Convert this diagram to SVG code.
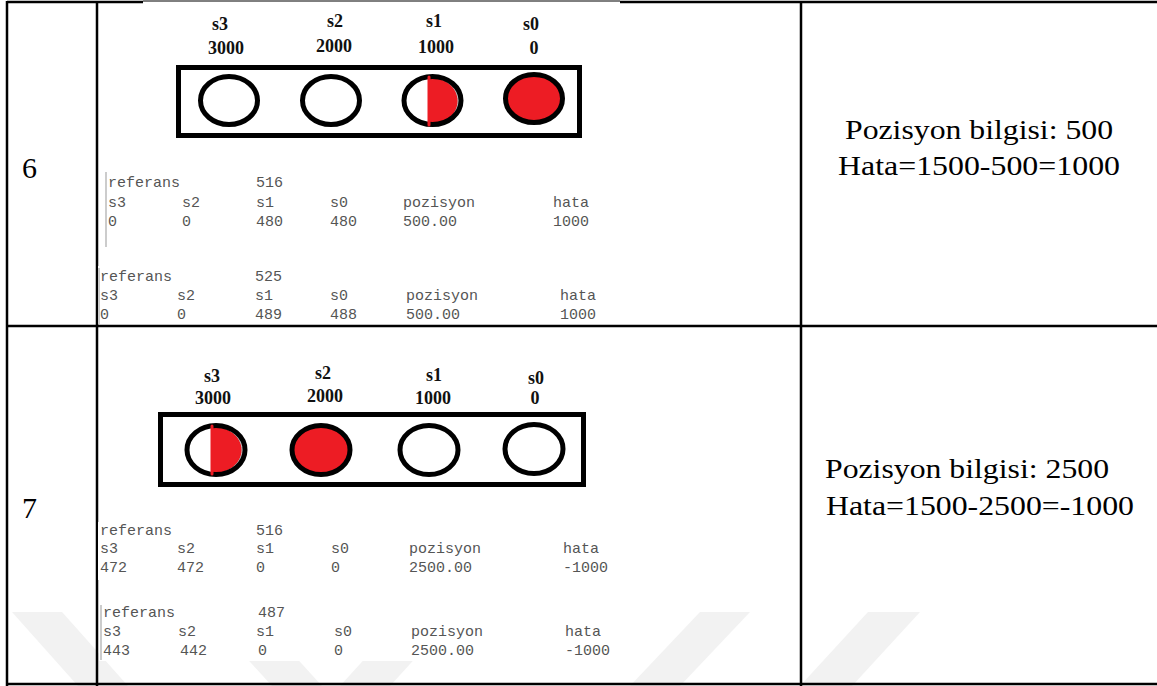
<svg xmlns="http://www.w3.org/2000/svg" width="1157" height="686" viewBox="0 0 1157 686">
<style>
.wm{fill:#f2f2f2}
.shot{fill:#fff}
.tl{stroke:#000;stroke-width:2.5;fill:none}
.num{font-family:"Liberation Serif","Times New Roman",serif;font-size:30px;fill:#000}
.lbl{font-family:"Liberation Serif","Times New Roman",serif;font-size:18px;font-weight:bold;fill:#111;text-anchor:middle}
.box{fill:none;stroke:#000;stroke-width:5}
.ring{fill:none;stroke:#000;stroke-width:5}
.redfill{fill:#ed1c24;stroke:#000;stroke-width:5}
.half{fill:#ed1c24;stroke:#bbb;stroke-width:1}
.cut{stroke:#ed1c24;stroke-width:3;stroke-linecap:round}
.con{font-family:"Liberation Mono","Courier New",monospace;font-size:15px;fill:#555}
.bar{stroke:#999;stroke-width:1}
.desc{font-family:"Liberation Serif","Times New Roman",serif;font-size:28px;fill:#000}
</style>
<rect width="1157" height="686" fill="#fff"/>
<g id="watermark">
<polygon class="wm" points="12,612 62,612 128,686 78,686"/>
<polygon class="wm" points="212,620 262,620 322,686 272,686"/>
<polygon class="wm" points="340,686 400,620 450,620 390,686"/>
<polygon class="wm" points="630,686 700,612 750,612 680,686"/>
<polygon class="wm" points="800,686 868,612 920,612 852,686"/>
</g>
<g id="table">
<line class="tl" x1="7" y1="2" x2="143" y2="2"/>
<line x1="143" y1="1" x2="620" y2="1" stroke="#000" stroke-width="1"/>
<line class="tl" x1="620" y1="2" x2="1157" y2="2"/>
<line class="tl" x1="7" y1="1" x2="7" y2="686"/>
<line class="tl" x1="97" y1="1" x2="97" y2="686"/>
<line class="tl" x1="801" y1="1" x2="801" y2="686"/>
<line class="tl" x1="7" y1="326" x2="1157" y2="326"/>
<line class="tl" x1="7" y1="684" x2="1157" y2="684"/>
</g>
<g id="row6-number"><text class="num" x="22" y="178">6</text></g>
<g id="row7-number"><text class="num" x="22" y="518">7</text></g>
<g id="row6-sensors">
<text class="lbl" x="220" y="30">s3</text>
<text class="lbl" x="335" y="27">s2</text>
<text class="lbl" x="434" y="27">s1</text>
<text class="lbl" x="531" y="30">s0</text>
<text class="lbl" x="226" y="54">3000</text>
<text class="lbl" x="334" y="52">2000</text>
<text class="lbl" x="436" y="53">1000</text>
<text class="lbl" x="534" y="54">0</text>
<rect class="box" x="178.5" y="67.5" width="401" height="68"/>
<ellipse class="ring" cx="229" cy="100.5" rx="28.5" ry="24"/>
<ellipse class="ring" cx="331" cy="100.5" rx="28.5" ry="24"/>
<path class="half" d="M429,77 L429,125 C446,125 458,114 458,101 C458,88 446,77 429,77 Z"/>
<ellipse class="ring" cx="432.5" cy="100.5" rx="28.5" ry="24"/>
<line class="cut" x1="429" y1="77" x2="429" y2="125"/>
<ellipse class="redfill" cx="534" cy="98.5" rx="28.5" ry="24"/>
</g>
<g id="row6-console1">
<rect class="shot" x="104" y="170" width="500" height="80"/>
<line class="bar" x1="106" y1="172" x2="106" y2="247"/>
<text class="con" x="108" y="187">referans</text><text class="con" x="256" y="187">516</text>
<text class="con" x="108" y="207">s3</text><text class="con" x="182" y="207">s2</text><text class="con" x="256" y="207">s1</text><text class="con" x="330" y="207">s0</text><text class="con" x="403" y="207">pozisyon</text><text class="con" x="553" y="207">hata</text>
<text class="con" x="108" y="226">0</text><text class="con" x="182" y="226">0</text><text class="con" x="256" y="226">480</text><text class="con" x="330" y="226">480</text><text class="con" x="403" y="226">500.00</text><text class="con" x="553" y="226">1000</text>
</g>
<g id="row6-console2">
<rect class="shot" x="98" y="266" width="512" height="58"/>
<line class="bar" x1="99" y1="268" x2="99" y2="324"/>
<text class="con" x="100" y="281">referans</text><text class="con" x="255" y="281">525</text>
<text class="con" x="100" y="300">s3</text><text class="con" x="177" y="300">s2</text><text class="con" x="255" y="300">s1</text><text class="con" x="330" y="300">s0</text><text class="con" x="406" y="300">pozisyon</text><text class="con" x="560" y="300">hata</text>
<text class="con" x="100" y="319">0</text><text class="con" x="177" y="319">0</text><text class="con" x="255" y="319">489</text><text class="con" x="330" y="319">488</text><text class="con" x="406" y="319">500.00</text><text class="con" x="560" y="319">1000</text>
</g>
<g id="row6-result">
<text class="desc" x="979" y="139" text-anchor="middle" textLength="268" lengthAdjust="spacingAndGlyphs">Pozisyon bilgisi: 500</text>
<text class="desc" x="979" y="175" text-anchor="middle" textLength="282" lengthAdjust="spacingAndGlyphs">Hata=1500-500=1000</text>
</g>
<g id="row7-sensors">
<text class="lbl" x="212" y="382">s3</text>
<text class="lbl" x="323" y="379">s2</text>
<text class="lbl" x="434" y="381">s1</text>
<text class="lbl" x="536" y="384">s0</text>
<text class="lbl" x="213" y="404">3000</text>
<text class="lbl" x="325" y="402">2000</text>
<text class="lbl" x="433" y="404">1000</text>
<text class="lbl" x="535" y="404">0</text>
<rect class="box" x="160.5" y="414.5" width="423" height="70"/>
<path class="half" d="M212,426 L212,474 C229,474 242,463 242,450 C242,437 229,426 212,426 Z"/>
<ellipse class="ring" cx="216" cy="450" rx="29" ry="24.5"/>
<line class="cut" x1="212" y1="426" x2="212" y2="474"/>
<ellipse class="redfill" cx="321" cy="450" rx="29" ry="24.5"/>
<ellipse class="ring" cx="429" cy="450" rx="29" ry="24.5"/>
<ellipse class="ring" cx="534" cy="449" rx="29" ry="24.5"/>
</g>
<g id="row7-console1">
<rect class="shot" x="98" y="522" width="520" height="58"/>
<text class="con" x="100" y="535">referans</text><text class="con" x="256" y="535">516</text>
<text class="con" x="100" y="553">s3</text><text class="con" x="177" y="553">s2</text><text class="con" x="256" y="553">s1</text><text class="con" x="331" y="553">s0</text><text class="con" x="409" y="553">pozisyon</text><text class="con" x="563" y="553">hata</text>
<text class="con" x="100" y="572">472</text><text class="con" x="177" y="572">472</text><text class="con" x="256" y="572">0</text><text class="con" x="331" y="572">0</text><text class="con" x="409" y="572">2500.00</text><text class="con" x="563" y="572">-1000</text>
</g>
<g id="row7-console2">
<rect class="shot" x="99" y="603" width="540" height="58"/>
<line class="bar" x1="101" y1="605" x2="101" y2="660"/>
<text class="con" x="103" y="617">referans</text><text class="con" x="258" y="617">487</text>
<text class="con" x="103" y="636">s3</text><text class="con" x="178" y="636">s2</text><text class="con" x="256" y="636">s1</text><text class="con" x="334" y="636">s0</text><text class="con" x="411" y="636">pozisyon</text><text class="con" x="565" y="636">hata</text>
<text class="con" x="103" y="655">443</text><text class="con" x="180" y="655">442</text><text class="con" x="258" y="655">0</text><text class="con" x="334" y="655">0</text><text class="con" x="411" y="655">2500.00</text><text class="con" x="565" y="655">-1000</text>
</g>
<g id="row7-result">
<text class="desc" x="825" y="478" textLength="284" lengthAdjust="spacingAndGlyphs">Pozisyon bilgisi: 2500</text>
<text class="desc" x="826" y="515" textLength="308" lengthAdjust="spacingAndGlyphs">Hata=1500-2500=-1000</text>
</g>
</svg>
